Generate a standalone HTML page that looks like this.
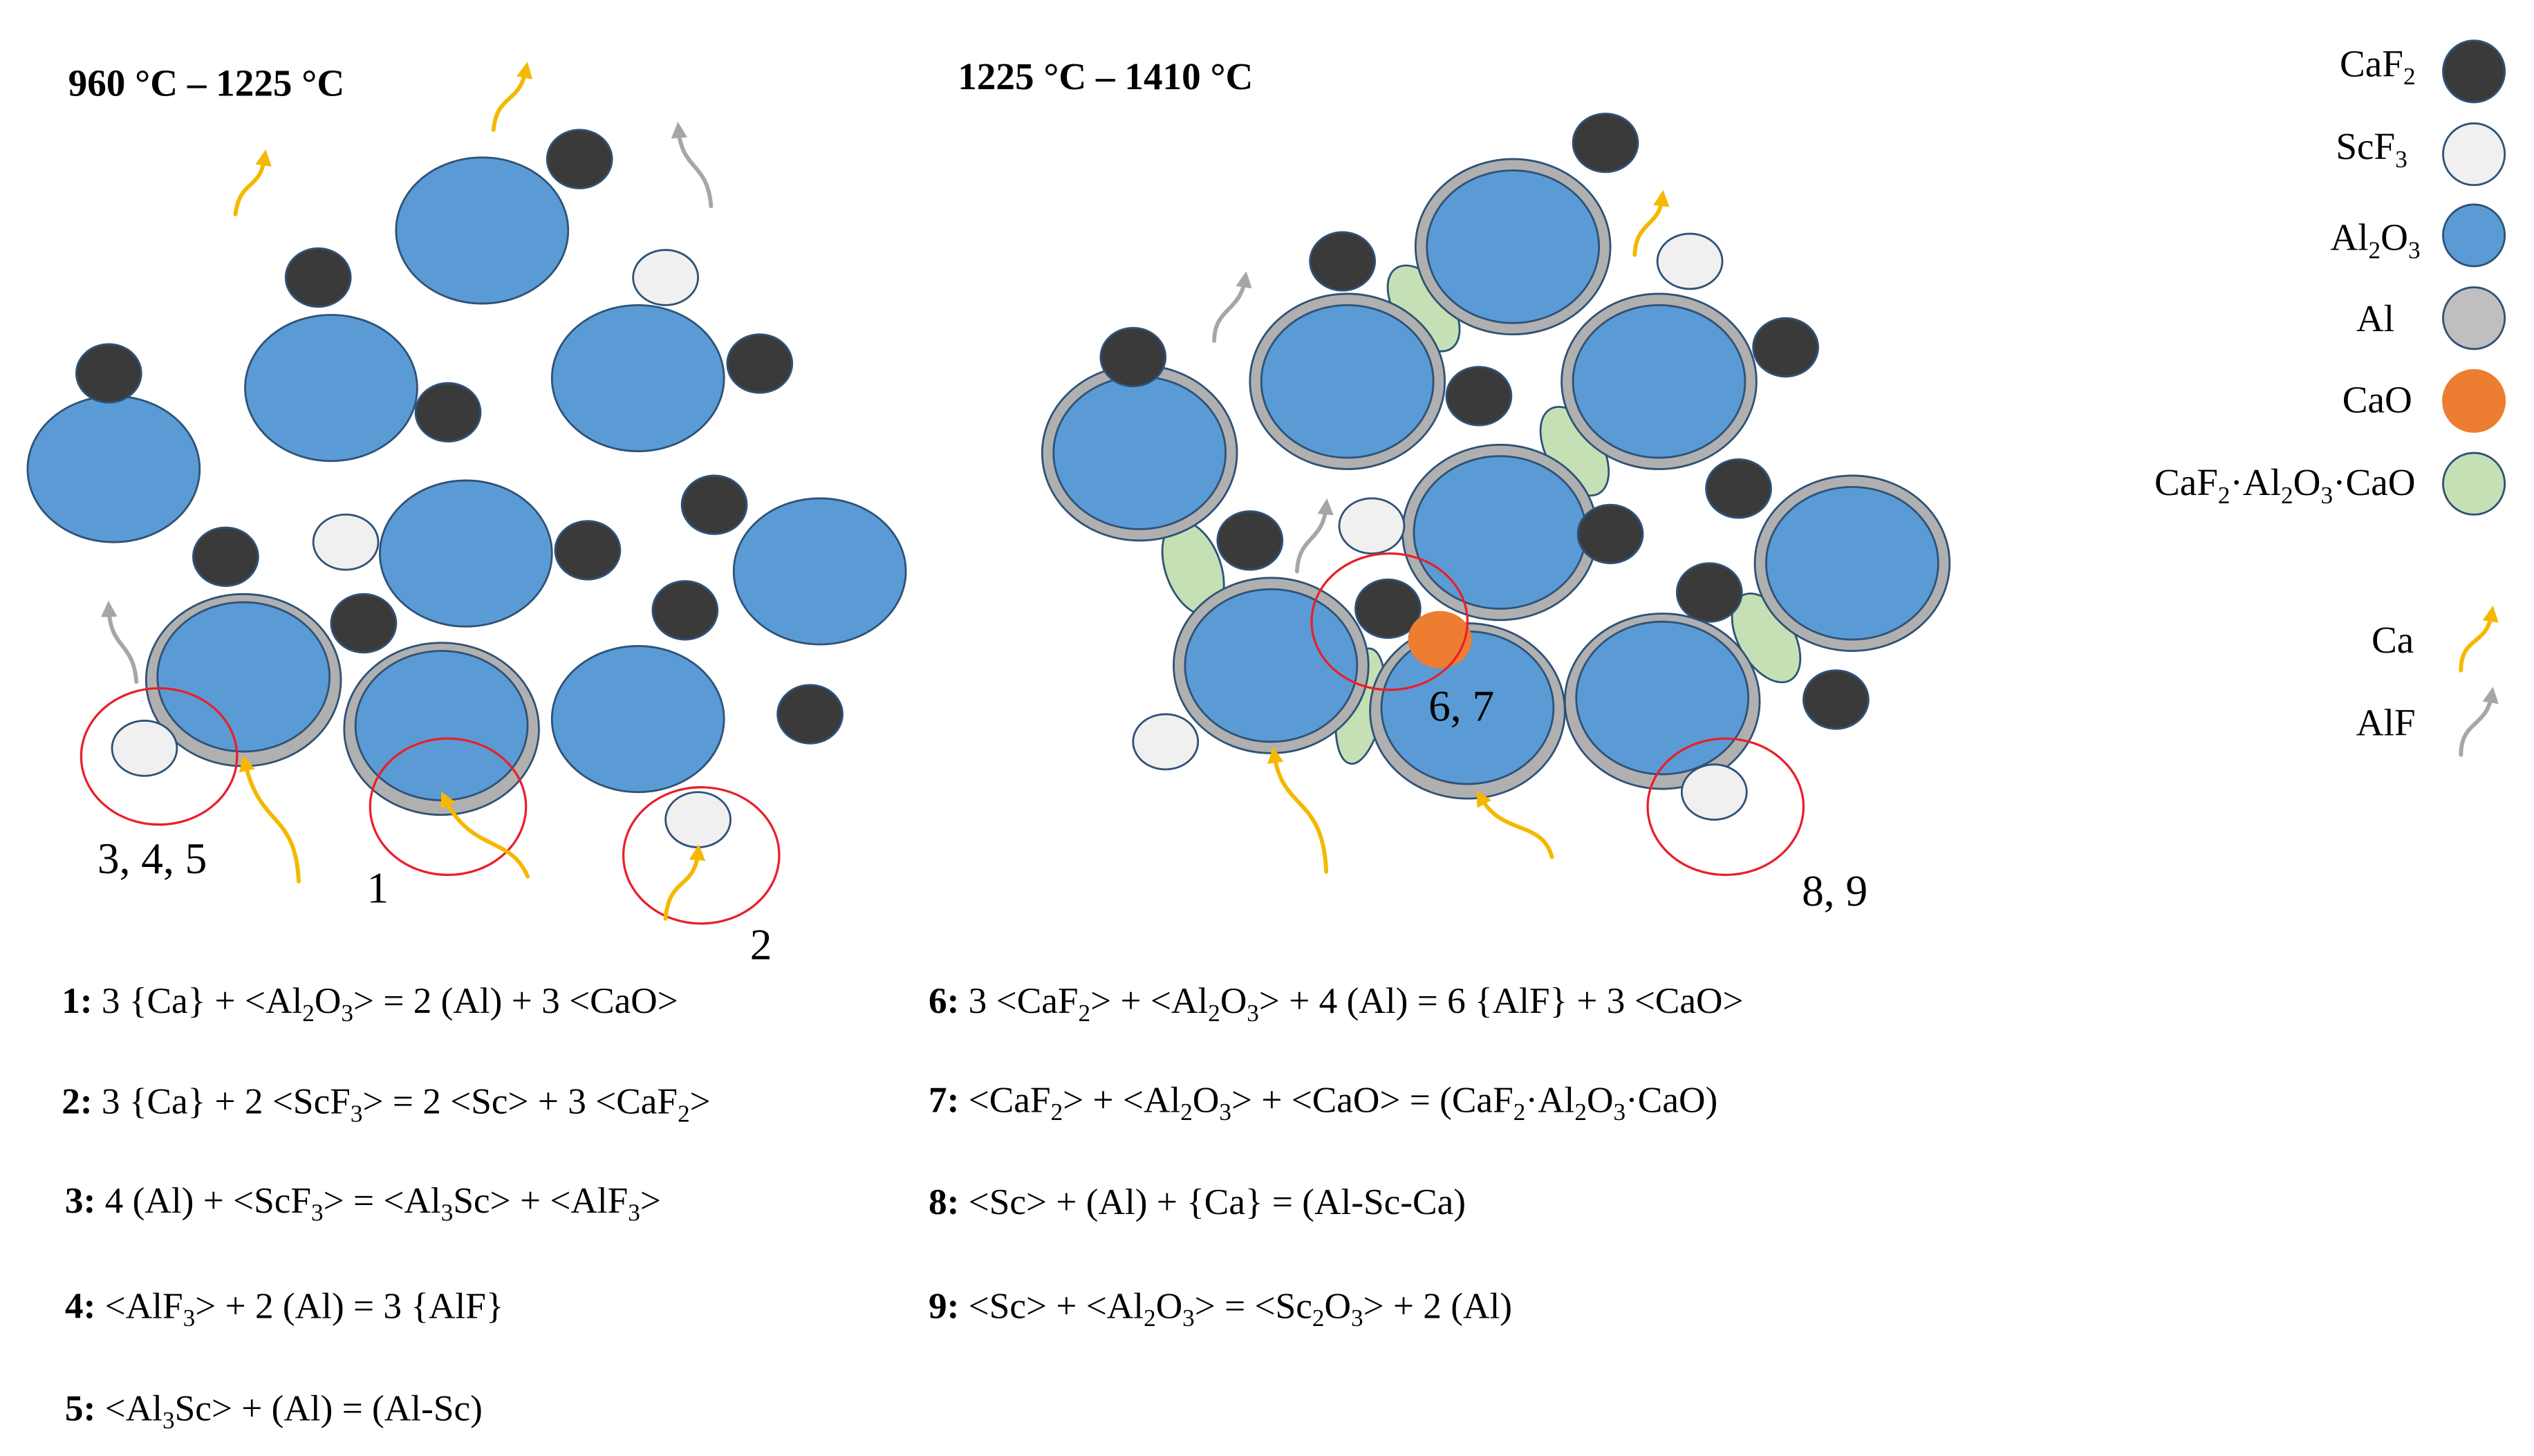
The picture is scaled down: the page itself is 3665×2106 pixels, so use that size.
<!DOCTYPE html>
<html><head><meta charset="utf-8"><style>
html,body{margin:0;padding:0;background:#fff;}
svg{display:block}
text{font-family:"Liberation Serif",serif;fill:#000}
</style></head><body>
<svg width="3665" height="2106" viewBox="0 0 1561 897" xmlns="http://www.w3.org/2000/svg">
<defs>
<marker id="ay" viewBox="0 0 10 10" refX="5" refY="5" markerWidth="4" markerHeight="4" orient="auto"><path d="M0,0 L10,5 L0,10 z" fill="#f5b800"/></marker>
<marker id="ag" viewBox="0 0 10 10" refX="5" refY="5" markerWidth="4" markerHeight="4" orient="auto"><path d="M0,0 L10,5 L0,10 z" fill="#a6a6a6"/></marker>
</defs>
<rect width="1561" height="897" fill="#fff"/>
<g stroke="#2f5277" stroke-width="1.2">
<g fill="#5b9bd5">
<ellipse cx="297" cy="142" rx="53" ry="45"/>
<ellipse cx="204" cy="239" rx="53" ry="45"/>
<ellipse cx="393" cy="233" rx="53" ry="45"/>
<ellipse cx="70" cy="289" rx="53" ry="45"/>
<ellipse cx="287" cy="341" rx="53" ry="45"/>
<ellipse cx="505" cy="352" rx="53" ry="45"/>
<ellipse cx="393" cy="443" rx="53" ry="45"/>
</g>
<ellipse cx="150" cy="419" rx="60" ry="53" fill="#b0b0b0"/>
<ellipse cx="150" cy="417" rx="53" ry="46" fill="#5b9bd5"/>
<ellipse cx="272" cy="449" rx="60" ry="53" fill="#b0b0b0"/>
<ellipse cx="272" cy="447" rx="53" ry="46" fill="#5b9bd5"/>
<g fill="#c5e0b4">
<ellipse cx="877" cy="190" rx="17" ry="30" transform="rotate(-35 877 190)"/>
<ellipse cx="970" cy="278" rx="17" ry="30" transform="rotate(-30 970 278)"/>
<ellipse cx="735" cy="350" rx="17" ry="30" transform="rotate(-20 735 350)"/>
<ellipse cx="838" cy="435" rx="14" ry="36" transform="rotate(10 838 435)"/>
<ellipse cx="1088" cy="393" rx="17" ry="30" transform="rotate(-30 1088 393)"/>
</g>
<g>
<ellipse cx="702" cy="279" rx="60" ry="54" fill="#b0b0b0"/><ellipse cx="702" cy="279" rx="53" ry="47" fill="#5b9bd5"/>
<ellipse cx="830" cy="235" rx="60" ry="54" fill="#b0b0b0"/><ellipse cx="830" cy="235" rx="53" ry="47" fill="#5b9bd5"/>
<ellipse cx="932" cy="152" rx="60" ry="54" fill="#b0b0b0"/><ellipse cx="932" cy="152" rx="53" ry="47" fill="#5b9bd5"/>
<ellipse cx="1022" cy="235" rx="60" ry="54" fill="#b0b0b0"/><ellipse cx="1022" cy="235" rx="53" ry="47" fill="#5b9bd5"/>
<ellipse cx="924" cy="328" rx="60" ry="54" fill="#b0b0b0"/><ellipse cx="924" cy="328" rx="53" ry="47" fill="#5b9bd5"/>
<ellipse cx="1141" cy="347" rx="60" ry="54" fill="#b0b0b0"/><ellipse cx="1141" cy="347" rx="53" ry="47" fill="#5b9bd5"/>
<ellipse cx="783" cy="410" rx="60" ry="54" fill="#b0b0b0"/><ellipse cx="783" cy="410" rx="53" ry="47" fill="#5b9bd5"/>
<ellipse cx="904" cy="438" rx="60" ry="54" fill="#b0b0b0"/><ellipse cx="904" cy="436" rx="53" ry="47" fill="#5b9bd5"/>
<ellipse cx="1024" cy="432" rx="60" ry="54" fill="#b0b0b0"/><ellipse cx="1024" cy="430" rx="53" ry="47" fill="#5b9bd5"/>
</g>
<g fill="#3a3a3a">
<ellipse cx="357" cy="98" rx="20" ry="18"/><ellipse cx="196" cy="171" rx="20" ry="18"/><ellipse cx="67" cy="230" rx="20" ry="18"/>
<ellipse cx="276" cy="254" rx="20" ry="18"/><ellipse cx="468" cy="224" rx="20" ry="18"/><ellipse cx="139" cy="343" rx="20" ry="18"/>
<ellipse cx="362" cy="339" rx="20" ry="18"/><ellipse cx="440" cy="311" rx="20" ry="18"/><ellipse cx="224" cy="384" rx="20" ry="18"/>
<ellipse cx="422" cy="376" rx="20" ry="18"/><ellipse cx="499" cy="440" rx="20" ry="18"/>
<ellipse cx="989" cy="88" rx="20" ry="18"/><ellipse cx="827" cy="161" rx="20" ry="18"/><ellipse cx="698" cy="220" rx="20" ry="18"/>
<ellipse cx="911" cy="244" rx="20" ry="18"/><ellipse cx="1100" cy="214" rx="20" ry="18"/><ellipse cx="1071" cy="301" rx="20" ry="18"/>
<ellipse cx="992" cy="329" rx="20" ry="18"/><ellipse cx="770" cy="333" rx="20" ry="18"/><ellipse cx="855" cy="375" rx="20" ry="18"/>
<ellipse cx="1053" cy="365" rx="20" ry="18"/><ellipse cx="1131" cy="431" rx="20" ry="18"/>
</g>
<g fill="#f0f0f0">
<ellipse cx="410" cy="171" rx="20" ry="17"/><ellipse cx="213" cy="334" rx="20" ry="17"/><ellipse cx="89" cy="461" rx="20" ry="17"/><ellipse cx="430" cy="505" rx="20" ry="17"/>
<ellipse cx="1041" cy="161" rx="20" ry="17"/><ellipse cx="845" cy="324" rx="20" ry="17"/><ellipse cx="718" cy="457" rx="20" ry="17"/><ellipse cx="1056" cy="488" rx="20" ry="17"/>
</g>
<ellipse cx="887" cy="394" rx="19" ry="17" fill="#ed7d31" stroke="#ed7d31"/>
<circle cx="1524" cy="44" r="19" fill="#3a3a3a"/>
<circle cx="1524" cy="95" r="19" fill="#f0f0f0"/>
<circle cx="1524" cy="145" r="19" fill="#5b9bd5"/>
<circle cx="1524" cy="196" r="19" fill="#bfbfbf"/>
<circle cx="1524" cy="247" r="19" fill="#ed7d31" stroke="#ed7d31"/>
<circle cx="1524" cy="298" r="19" fill="#c5e0b4"/>
</g>
<g fill="none" stroke="#e8202a" stroke-width="1.4">
<ellipse cx="98" cy="466" rx="48" ry="42"/>
<ellipse cx="276" cy="497" rx="48" ry="42"/>
<ellipse cx="432" cy="527" rx="48" ry="42"/>
<ellipse cx="856" cy="383" rx="48" ry="42"/>
<ellipse cx="1063" cy="497" rx="48" ry="42"/>
</g>
<g fill="none" stroke-width="2.5" stroke-linecap="round">
<g stroke="#f5b800">
<path d="M145,132 C148,110 160,118 163,97" marker-end="url(#ay)"/>
<path d="M304,80 C306,58 320,64 324,43" marker-end="url(#ay)"/>
<path d="M184,543 C182,500 160,510 151,470" marker-end="url(#ay)"/>
<path d="M325,540 C315,515 290,525 274,492" marker-end="url(#ay)"/>
<path d="M410,566 C412,540 428,548 430,525" marker-end="url(#ay)"/>
<path d="M1007,157 C1008,136 1022,140 1024,122" marker-end="url(#ay)"/>
<path d="M817,537 C815,490 790,500 785,465" marker-end="url(#ay)"/>
<path d="M956,528 C950,505 925,515 912,491" marker-end="url(#ay)"/>
<path d="M1516,413 C1516,392 1532,398 1535,378" marker-end="url(#ay)"/>
</g>
<g stroke="#a6a6a6">
<path d="M438,127 C436,100 420,105 418,80" marker-end="url(#ag)"/>
<path d="M84,420 C82,395 68,400 67,375" marker-end="url(#ag)"/>
<path d="M748,210 C748,190 764,192 767,172" marker-end="url(#ag)"/>
<path d="M799,352 C800,330 815,334 817,312" marker-end="url(#ag)"/>
<path d="M1516,465 C1516,444 1532,448 1535,428" marker-end="url(#ag)"/>
</g>
</g>
<text x="42" y="59" font-size="23.5" font-weight="bold">960 °C – 1225 °C</text>
<text x="590" y="55" font-size="23.5" font-weight="bold">1225 °C – 1410 °C</text>
<g font-size="27">
<text x="60" y="538">3, 4, 5</text>
<text x="226" y="556">1</text>
<text x="462" y="591">2</text>
<text x="880" y="444">6, 7</text>
<text x="1110" y="558">8, 9</text>
</g>
<g font-size="23.5" text-anchor="end">
<text x="1488" y="47">CaF<tspan font-size="15" dy="5">2</tspan></text>
<text x="1483" y="98">ScF<tspan font-size="15" dy="5">3</tspan></text>
<text x="1491" y="154">Al<tspan font-size="15" dy="5">2</tspan><tspan dy="-5">O</tspan><tspan font-size="15" dy="5">3</tspan></text>
<text x="1475" y="204">Al</text>
<text x="1486" y="254">CaO</text>
<text x="1488" y="305">CaF<tspan font-size="15" dy="5">2</tspan><tspan dy="-5">·Al</tspan><tspan font-size="15" dy="5">2</tspan><tspan dy="-5">O</tspan><tspan font-size="15" dy="5">3</tspan><tspan dy="-5">·CaO</tspan></text>
<text x="1487" y="402">Ca</text>
<text x="1488" y="453">AlF</text>
</g>
<g font-size="22.7">
<text x="38" y="624"><tspan font-weight="bold">1:</tspan> 3 {Ca} + &lt;Al<tspan font-size="15" dy="5">2</tspan><tspan dy="-5">O</tspan><tspan font-size="15" dy="5">3</tspan><tspan dy="-5">&gt; = 2 (Al) + 3 &lt;CaO&gt;</tspan></text>
<text x="38" y="686"><tspan font-weight="bold">2:</tspan> 3 {Ca} + 2 &lt;ScF<tspan font-size="15" dy="5">3</tspan><tspan dy="-5">&gt; = 2 &lt;Sc&gt; + 3 &lt;CaF</tspan><tspan font-size="15" dy="5">2</tspan><tspan dy="-5">&gt;</tspan></text>
<text x="40" y="747"><tspan font-weight="bold">3:</tspan> 4 (Al) + &lt;ScF<tspan font-size="15" dy="5">3</tspan><tspan dy="-5">&gt; = &lt;Al</tspan><tspan font-size="15" dy="5">3</tspan><tspan dy="-5">Sc&gt; + &lt;AlF</tspan><tspan font-size="15" dy="5">3</tspan><tspan dy="-5">&gt;</tspan></text>
<text x="40" y="812"><tspan font-weight="bold">4:</tspan> &lt;AlF<tspan font-size="15" dy="5">3</tspan><tspan dy="-5">&gt; + 2 (Al) = 3 {AlF}</tspan></text>
<text x="40" y="875"><tspan font-weight="bold">5:</tspan> &lt;Al<tspan font-size="15" dy="5">3</tspan><tspan dy="-5">Sc&gt; + (Al) = (Al-Sc)</tspan></text>
<text x="572" y="624"><tspan font-weight="bold">6:</tspan> 3 &lt;CaF<tspan font-size="15" dy="5">2</tspan><tspan dy="-5">&gt; + &lt;Al</tspan><tspan font-size="15" dy="5">2</tspan><tspan dy="-5">O</tspan><tspan font-size="15" dy="5">3</tspan><tspan dy="-5">&gt; + 4 (Al) = 6 {AlF} + 3 &lt;CaO&gt;</tspan></text>
<text x="572" y="685"><tspan font-weight="bold">7:</tspan> &lt;CaF<tspan font-size="15" dy="5">2</tspan><tspan dy="-5">&gt; + &lt;Al</tspan><tspan font-size="15" dy="5">2</tspan><tspan dy="-5">O</tspan><tspan font-size="15" dy="5">3</tspan><tspan dy="-5">&gt; + &lt;CaO&gt; = (CaF</tspan><tspan font-size="15" dy="5">2</tspan><tspan dy="-5">·Al</tspan><tspan font-size="15" dy="5">2</tspan><tspan dy="-5">O</tspan><tspan font-size="15" dy="5">3</tspan><tspan dy="-5">·CaO)</tspan></text>
<text x="572" y="748"><tspan font-weight="bold">8:</tspan> &lt;Sc&gt; + (Al) + {Ca} = (Al-Sc-Ca)</text>
<text x="572" y="812"><tspan font-weight="bold">9:</tspan> &lt;Sc&gt; + &lt;Al<tspan font-size="15" dy="5">2</tspan><tspan dy="-5">O</tspan><tspan font-size="15" dy="5">3</tspan><tspan dy="-5">&gt; = &lt;Sc</tspan><tspan font-size="15" dy="5">2</tspan><tspan dy="-5">O</tspan><tspan font-size="15" dy="5">3</tspan><tspan dy="-5">&gt; + 2 (Al)</tspan></text>
</g>
</svg>
</body></html>
